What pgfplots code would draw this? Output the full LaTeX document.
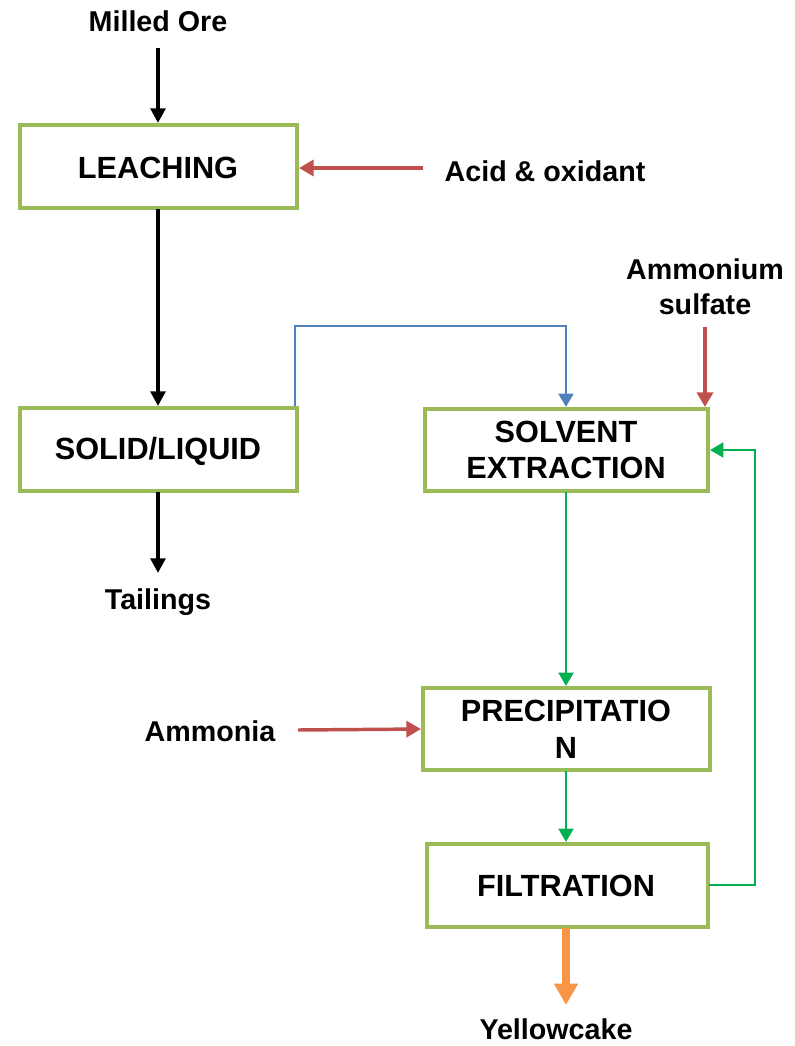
\documentclass[border=0pt]{standalone}
\usepackage{pgfplots}
\pgfplotsset{compat=1.18}
\usepackage{fontspec}
\setmainfont{Liberation Sans}
\usetikzlibrary{arrows.meta}
\definecolor{boxgreen}{HTML}{9BBB59}
\definecolor{redarr}{HTML}{C0504D}
\definecolor{bluearr}{HTML}{4F81BD}
\definecolor{greenarr}{HTML}{00B050}
\definecolor{orangearr}{HTML}{F79646}
\tikzset{
  lbl/.style={font=\fontsize{21.5}{25}\selectfont\bfseries, align=center, inner sep=0pt},
  bx/.style={font=\fontsize{23}{27.5}\selectfont\bfseries, align=center, inner sep=0pt},
}
\begin{document}
\begin{tikzpicture}
\begin{axis}[
  scale only axis, width=595.5pt, height=784.5pt,
  xmin=0, xmax=794, ymin=0, ymax=1046, y dir=reverse,
  hide axis, clip=false,
]
% invisible frame for bounding box
\addplot[draw=none] coordinates {(0,0) (794,1046)};
\draw[draw=none] (rel axis cs:0,0) rectangle (rel axis cs:1,1);

% boxes
\addplot[draw=boxgreen, line width=3pt, line join=miter] coordinates {(20,125) (297,125) (297,208) (20,208)} -- cycle;
\addplot[draw=boxgreen, line width=3pt, line join=miter] coordinates {(20,408) (297,408) (297,491) (20,491)} -- cycle;
\addplot[draw=boxgreen, line width=3pt, line join=miter] coordinates {(425,409) (708,409) (708,491) (425,491)} -- cycle;
\addplot[draw=boxgreen, line width=3pt, line join=miter] coordinates {(423,688) (710,688) (710,770) (423,770)} -- cycle;
\addplot[draw=boxgreen, line width=3pt, line join=miter] coordinates {(427,844) (708,844) (708,927) (427,927)} -- cycle;

% black arrows
\addplot[black, line width=3pt, -{Triangle[length=11pt,width=11pt]}] coordinates {(158,48) (158,123)};
\addplot[black, line width=3pt, -{Triangle[length=11pt,width=11pt]}] coordinates {(158,209) (158,406)};
\addplot[black, line width=3pt, -{Triangle[length=11pt,width=11pt]}] coordinates {(158,492) (158,573)};

% red arrows
\addplot[redarr, line width=2.6pt, -{Triangle[length=11pt,width=12pt]}] coordinates {(423,168) (299,168)};
\addplot[redarr, line width=2.6pt, -{Triangle[length=11pt,width=12pt]}] coordinates {(705,327) (705,407)};
\addplot[redarr, line width=2.6pt, -{Triangle[length=11pt,width=12pt]}] coordinates {(298,730) (421,729)};

% blue connector
\addplot[bluearr, line width=2.2pt, line join=miter, -{Triangle[length=10pt,width=11pt]}] coordinates {(295,406) (295,326) (566,326) (566,407)};

% green arrows
\addplot[greenarr, line width=2.2pt, -{Triangle[length=10pt,width=11pt]}] coordinates {(566,492) (566,686)};
\addplot[greenarr, line width=2.2pt, -{Triangle[length=10pt,width=11pt]}] coordinates {(566,771) (566,842)};
\addplot[greenarr, line width=2.2pt, line join=miter, -{Triangle[length=10pt,width=11pt]}] coordinates {(709,885) (755,885) (755,450) (710,450)};

% orange arrow
\addplot[orangearr, line width=6pt, -{Triangle[length=16pt,width=17pt]}] coordinates {(566,928) (566,1005)};

% texts
\node[lbl] at (axis cs:158,21) {Milled Ore};
\node[lbl] at (axis cs:545,171) {Acid \& oxidant};
\node[lbl] at (axis cs:158,602) {Tailings};
\node[lbl] at (axis cs:705,287) {Ammonium\\[1pt]sulfate};
\node[lbl] at (axis cs:210,731) {Ammonia};
\node[lbl] at (axis cs:556,1029) {Yellowcake};

\node[bx] at (axis cs:158,168) {LEACHING};
\node[bx] at (axis cs:158,451) {SOLID/LIQUID};
\node[bx] at (axis cs:566,450) {SOLVENT\\EXTRACTION};
\node[bx] at (axis cs:566,729) {PRECIPITATIO\\N};
\node[bx] at (axis cs:566,886) {FILTRATION};
\end{axis}
\end{tikzpicture}
\end{document}
